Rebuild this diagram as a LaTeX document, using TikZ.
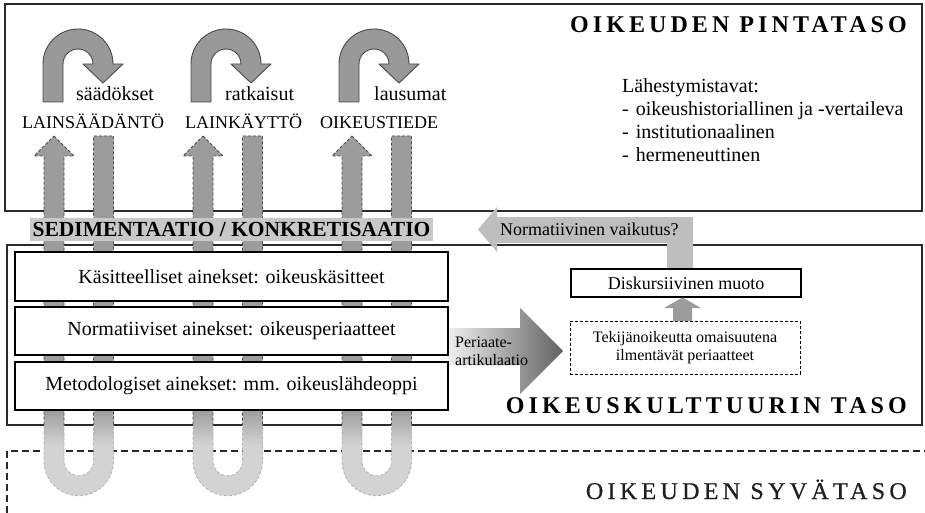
\documentclass[tikz,border=0pt]{standalone}
\usepackage{fontspec}
\setmainfont{Liberation Serif}
\definecolor{colDark}{HTML}{9C9C9C}
\definecolor{colLight}{HTML}{D3D3D3}
\definecolor{uturnfill}{HTML}{999999}
\definecolor{sedbg}{HTML}{C8C8C8}
\definecolor{normarrow}{HTML}{BEBEBE}
\definecolor{framec}{HTML}{2A2A2A}
\definecolor{darkdash}{HTML}{4A4A4A}
\definecolor{lightdash}{HTML}{B4B4B4}
\newcommand{\fsz}[1]{\fontsize{#1pt}{#1pt}\selectfont}
\newcommand{\colshape}{(54,136) -- (74,156) -- (64,156) -- (64,461) arc[start angle=180,end angle=0,radius=14.75] -- (93.5,136) -- (113.5,136) -- (113.5,461) arc[start angle=0,end angle=180,radius=34.75] -- (44,156) -- (34,156) -- cycle}
\begin{document}
\begin{tikzpicture}[x=1pt,y=-1pt,
  frame/.style={draw=framec,line width=1.2pt},
  coldash/.style={line width=0.8pt,dash pattern=on 3pt off 2pt},
  uturn/.style={fill=uturnfill,draw=darkdash,line width=0.9pt,line join=round},
  layerbox/.style={draw=black,line width=1.1pt,fill=white,inner sep=0pt,font=\fsz{20}},
  lbl/.style={inner sep=0pt,anchor=base west},
  title/.style={inner sep=0pt,anchor=base east,font=\fsz{24}\bfseries\addfontfeature{LetterSpace=17}}]
\useasboundingbox (0,0) rectangle (925,513);
\fill[white] (0,0) rectangle (925,513);
% frames
\draw[frame] (5,4) rectangle (922,211);
\draw[frame] (7,245) rectangle (922,425);
\draw[framec,line width=1.3pt,dash pattern=on 7pt off 4pt] (7,513) -- (7,451) -- (925,451);
% columns
\foreach \o in {0,149,298}{
 \begin{scope}[xshift=\o]
  \begin{scope}
   \clip \colshape;
   \fill[colDark] (0,130) rectangle (130,410);
   \shade[top color=colDark,bottom color=colLight] (0,409.5) rectangle (130,445);
   \fill[colLight] (0,444.5) rectangle (130,513);
  \end{scope}
  \begin{scope}
   \clip (0,0) rectangle (130,425);
   \draw[coldash,draw=darkdash] \colshape;
  \end{scope}
  \begin{scope}
   \clip (0,425) rectangle (130,513);
   \draw[coldash,draw=lightdash] \colshape;
  \end{scope}
 \end{scope}
}
% u-turn arrows
\foreach \o in {0,148,296}{
 \begin{scope}[xshift=\o]
  \draw[uturn] (43,102) -- (43,64) arc[start angle=180,end angle=360,radius=35] -- (123,64) -- (103,83) -- (83,64) -- (93,64) arc[start angle=0,end angle=-180,radius=15] -- (63,102) -- cycle;
 \end{scope}
}
% sedimentation label
\node[fill=sedbg,inner sep=0pt,minimum width=403pt,minimum height=23pt,font=\fsz{21.5}\bfseries] (sed) at (231.5,229.5) {SEDIMENTAATIO / KONKRETISAATIO};
% periaate arrow
\shade[left color=black!6,right color=black!62] (448,328) -- (520,328) -- (520,308) -- (563,351) -- (520,394) -- (520,365) -- (448,365) -- cycle;
% layer boxes
\node[layerbox,minimum width=433pt,minimum height=49pt] (kas) at (231.5,276.5) {Käsitteelliset ainekset: oikeuskäsitteet};
\node[layerbox,minimum width=433pt,minimum height=48pt] (nor) at (231.5,331) {Normatiiviset ainekset: oikeusperiaatteet};
\node[layerbox,minimum width=433pt,minimum height=48pt] (met) at (231.5,386) {Metodologiset ainekset: mm. oikeuslähdeoppi};
% normative arrow
\fill[normarrow] (478,229.5) -- (497,207) -- (497,217) -- (693,217) -- (693,269) -- (667,269) -- (667,243) -- (497,243) -- (497,252) -- cycle;
\node[lbl,font=\fsz{18}] (norm) at (500,235) {Normatiivinen vaikutus?};
% right boxes
\node[draw=black,line width=2pt,fill=white,inner sep=0pt,minimum width=230pt,minimum height=28pt,font=\fsz{18}] (disk) at (686,283) {Diskursiivinen muoto};
\node[draw=black,line width=0.8pt,dash pattern=on 3pt off 2pt,fill=white,inner sep=0pt,minimum width=230pt,minimum height=53pt,align=center,font=\fontsize{16pt}{18pt}\selectfont] (tek) at (685,347.5) {Tekijänoikeutta omaisuutena\\ilmentävät periaatteet};
\fill[colDark] (682.5,297.5) -- (701,308) -- (692,308) -- (692,321) -- (673,321) -- (673,308) -- (664,308) -- cycle;
% periaate text
\node[lbl,font=\fsz{16}] (per1) at (455,347) {Periaate-};
\node[lbl,font=\fsz{16}] (per2) at (455,365) {artikulaatio};
% labels top
\node[lbl,font=\fsz{20}] (saad) at (76,100.5) {säädökset};
\node[lbl,font=\fsz{20}] (ratk) at (225,100.5) {ratkaisut};
\node[lbl,font=\fsz{20}] (laus) at (374,100.5) {lausumat};
\node[lbl,font=\fsz{18}] (lains) at (22,129) {LAINSÄÄDÄNTÖ};
\node[lbl,font=\fsz{18}] (laink) at (185,129) {LAINKÄYTTÖ};
\node[lbl,font=\fsz{18}] (oiktd) at (320,129) {OIKEUSTIEDE};
% approaches
\node[lbl,font=\fsz{20}] (lah) at (622,93) {Lähestymistavat:};
\node[lbl,font=\fsz{20}] (lah1) at (622,116) {-\hspace{7pt}oikeushistoriallinen ja -vertaileva};
\node[lbl,font=\fsz{20}] (lah2) at (622,138.5) {-\hspace{7pt}institutionaalinen};
\node[lbl,font=\fsz{20}] (lah3) at (622,161) {-\hspace{7pt}hermeneuttinen};
% titles
\node[title] (tpin) at (907,33) {OIKEUDEN PINTATASO};
\node[title] (tkult) at (907,413) {OIKEUSKULTTUURIN TASO};
\node[inner sep=0pt,anchor=base east,text=black!88,font=\fsz{24}\addfontfeature{LetterSpace=18,FakeBold=0.6}] (tsyv) at (907,499) {OIKEUDEN SYVÄTASO};
\end{tikzpicture}
\end{document}
